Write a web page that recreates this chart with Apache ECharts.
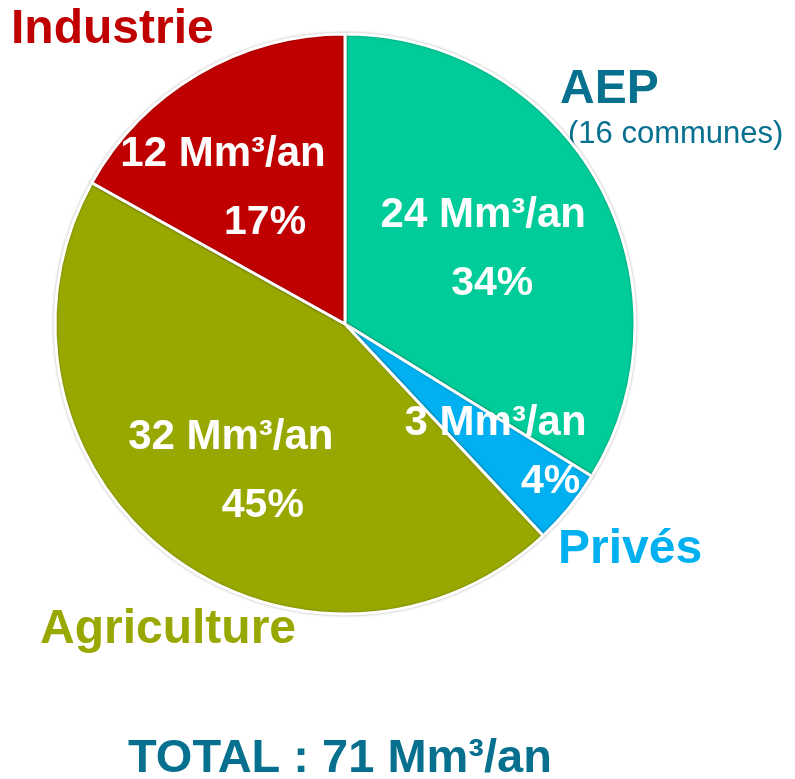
<!DOCTYPE html>
<html>

<head>
    <meta charset="utf-8">
    <script src="https://cdn.jsdelivr.net/npm/echarts@6.0.0/dist/echarts.min.js"></script>
    <style>
        html, body { margin: 0; padding: 0; background: #fff; }
    </style>
</head>

<body>
    <div id="echartsMain" style="width: 795px; height: 779px;"></div>
</body>

</html>

<script type="text/javascript">
    // données
    let categories = ['AEP', 'Privés', 'Agriculture', 'Industrie']
    let volumes = [24, 3, 32, 12]          // Mm3/an
    let percents = [34, 4, 45, 17]         // %
    let colors = ['#00CC99', '#00B0F0', '#99A800', '#C00000']
    let totalText = 'TOTAL : 71 Mm³/an'

    let font = 'Liberation Sans'
    let teal = '#08708F'

    // decalage des etiquettes internes (dx, dy) et du pourcentage
    let labelShift = [[9, -2], [36, 35], [-23, 31], [-47, -8]]
    let pctPad = [18, 110, 64, 84]

    function draw() {
        let myChart = echarts.init(document.getElementById('echartsMain'));

        let seriesData = categories.map((name, i) => ({
            name: name,
            value: volumes[i],
            itemStyle: { color: colors[i] }
        }))

        let rich = {
            v: { fontFamily: font, fontSize: 42, fontWeight: 'bold', color: '#fff', lineHeight: 68 },
            v2: { fontFamily: font, fontSize: 42, fontWeight: 'bold', color: '#fff', lineHeight: 58 }
        }
        pctPad.forEach((p, i) => {
            rich['p' + i] = {
                fontFamily: font, fontSize: 41, fontWeight: 'bold', color: '#fff',
                lineHeight: i === 1 ? 58 : 68,
                padding: [0, 0, 0, p]
            }
        })

        var option = {
            animation: false,
            backgroundColor: '#fff',
            series: [{
                type: 'pie',
                center: [345, 324],
                radius: 290,
                startAngle: 90,
                clockwise: true,
                avoidLabelOverlap: false,
                data: seriesData,
                itemStyle: {
                    borderColor: '#fff',
                    borderWidth: 3,
                    shadowBlur: 3,
                    shadowColor: 'rgba(0,0,0,0.25)'
                },
                emphasis: { disabled: true },
                label: {
                    show: true,
                    position: 'inside',
                    formatter: p => {
                        let i = p.dataIndex
                        let st = i === 1 ? 'v2' : 'v'
                        return '{' + st + '|' + volumes[i] + ' Mm³/an}\n{p' + i + '|' + percents[i] + '%}'
                    },
                    rich: rich
                },
                labelLine: { show: false },
                labelLayout: params => ({
                    dx: labelShift[params.dataIndex][0],
                    dy: labelShift[params.dataIndex][1]
                })
            }],
            graphic: [
                {
                    type: 'text', left: 11, top: 6,
                    style: { text: categories[3], font: 'bold 48px ' + font, fill: '#C00000' }
                },
                {
                    type: 'text', left: 560, top: 66,
                    style: { text: categories[0], font: 'bold 48px ' + font, fill: teal }
                },
                {
                    type: 'text', left: 568, top: 119,
                    style: { text: '(16 communes)', font: '31px ' + font, fill: teal }
                },
                {
                    type: 'text', left: 558, top: 526,
                    style: { text: categories[1], font: 'bold 48px ' + font, fill: '#00B0F0' }
                },
                {
                    type: 'text', left: 40, top: 606,
                    style: { text: categories[2], font: 'bold 48px ' + font, fill: '#99A800' }
                },
                {
                    type: 'text', left: 128, top: 736,
                    style: { text: totalText, font: 'bold 47px ' + font, fill: teal }
                }
            ]
        };
        myChart.setOption(option);
    }

    draw()
</script>
